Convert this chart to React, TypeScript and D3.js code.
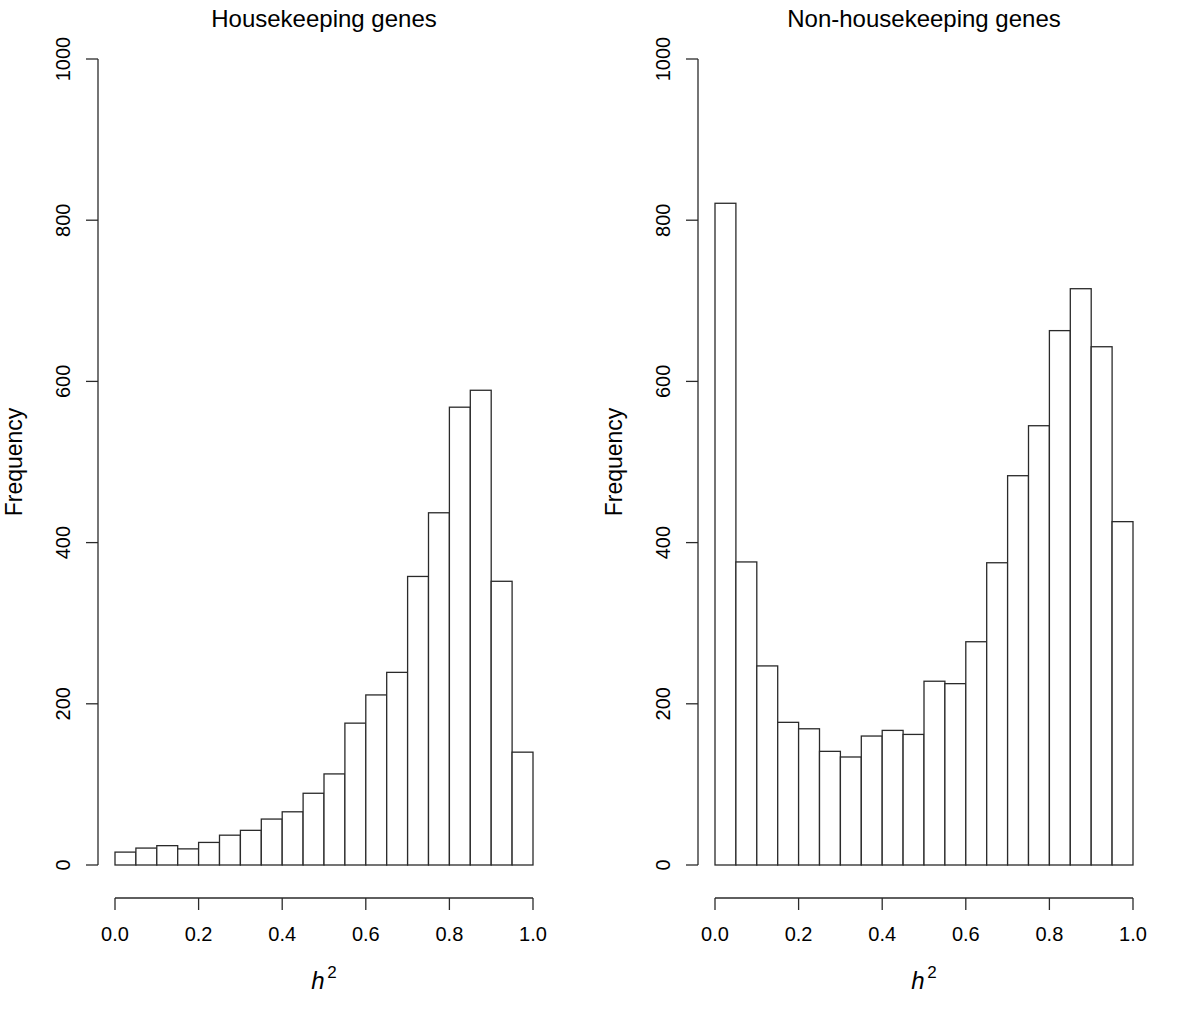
import React from "react";
import * as d3 from "d3";

const binEdges = [0, 0.05, 0.1, 0.15, 0.2, 0.25, 0.3, 0.35, 0.4, 0.45, 0.5, 0.55, 0.6, 0.65, 0.7, 0.75, 0.8, 0.85, 0.9, 0.95, 1.0];
const housekeepingCounts = [16, 21, 24, 20, 28, 37, 43, 57, 66, 89, 113, 176, 211, 239, 358, 437, 568, 589, 352, 140];
const nonHousekeepingCounts = [821, 376, 247, 177, 169, 141, 134, 160, 167, 162, 228, 225, 277, 375, 483, 545, 663, 715, 643, 426];
const xTicks = [0, 0.2, 0.4, 0.6, 0.8, 1.0];
const yTicks = [0, 200, 400, 600, 800, 1000];
const titles = ["Housekeeping genes", "Non-housekeeping genes"];

const FONT = "'Liberation Sans', Arial, Helvetica, sans-serif";
const STROKE = "#2a2a2a";

function Panel({ offsetX, counts, title }: { offsetX: number; counts: number[]; title: string }) {
  const x = d3.scaleLinear().domain([0, 1]).range([115 + offsetX, 533 + offsetX]);
  const y = d3.scaleLinear().domain([0, 1000]).range([865, 59]);
  const axisX = 98 + offsetX;
  const axisY = 898;
  const cx = (x(0) + x(1)) / 2;
  return (
    <g>
      <text x={cx} y={27} textAnchor="middle" fontSize={24} fontFamily={FONT} fill="#000">{title}</text>
      {counts.map((c, i) => (
        <rect
          key={i}
          x={x(binEdges[i])}
          y={y(c)}
          width={x(binEdges[i + 1]) - x(binEdges[i])}
          height={y(0) - y(c)}
          fill="#fff"
          stroke={STROKE}
          strokeWidth={1.3}
        />
      ))}
      {/* y axis */}
      <line x1={axisX} x2={axisX} y1={y(0)} y2={y(1000)} stroke={STROKE} strokeWidth={1.3} />
      {yTicks.map((t) => (
        <g key={t}>
          <line x1={axisX - 12} x2={axisX} y1={y(t)} y2={y(t)} stroke={STROKE} strokeWidth={1.3} />
          <text
            transform={`translate(${axisX - 28},${y(t)}) rotate(-90)`}
            textAnchor="middle"
            fontSize={20}
            fontFamily={FONT}
            fill="#000"
          >
            {t}
          </text>
        </g>
      ))}
      <text
        transform={`translate(${22 + offsetX},${(y(0) + y(1000)) / 2}) rotate(-90)`}
        textAnchor="middle"
        fontSize={23}
        fontFamily={FONT}
        fill="#000"
      >
        Frequency
      </text>
      {/* x axis */}
      <line x1={x(0)} x2={x(1)} y1={axisY} y2={axisY} stroke={STROKE} strokeWidth={1.3} />
      {xTicks.map((t) => (
        <g key={t}>
          <line x1={x(t)} x2={x(t)} y1={axisY} y2={axisY + 12} stroke={STROKE} strokeWidth={1.3} />
          <text x={x(t)} y={941} textAnchor="middle" fontSize={20} fontFamily={FONT} fill="#000">
            {d3.format(".1f")(t)}
          </text>
        </g>
      ))}
      <text x={cx - 6} y={989} textAnchor="middle" fontSize={24} fontStyle="italic" fontFamily={FONT} fill="#000">h</text>
      <text x={cx + 8} y={978} textAnchor="middle" fontSize={17} fontFamily={FONT} fill="#000">2</text>
    </g>
  );
}

export default function App() {
  return (
    <svg
      width={1200}
      height={1020}
      style={{ position: "absolute", left: 0, top: 0, background: "#fff" }}
    >
      <rect x={0} y={0} width={1200} height={1020} fill="#fff" />
      <Panel offsetX={0} counts={housekeepingCounts} title={titles[0]} />
      <Panel offsetX={600} counts={nonHousekeepingCounts} title={titles[1]} />
    </svg>
  );
}
